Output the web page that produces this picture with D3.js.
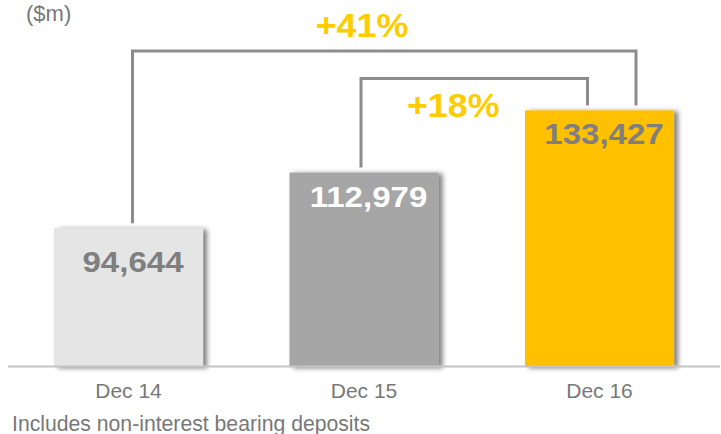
<!DOCTYPE html>
<html>
<head>
<meta charset="utf-8">
<script src="https://cdn.jsdelivr.net/npm/d3@7"></script>
<style>
  html, body { margin: 0; padding: 0; background: #fff; }
  svg { display: block; font-family: "Liberation Sans", Arial, Helvetica, sans-serif; }
</style>
</head>
<body>
<svg id="chart" width="721" height="434"></svg>
<script>
// ---- data ----
const categories = ["Dec 14", "Dec 15", "Dec 16"];
const values = [94644, 112979, 133427];
const valueLabels = ["94,644", "112,979", "133,427"];
const growthLabels = ["+41%", "+18%"];
const growthFrom = ["Dec 14", "Dec 15"];
const growthTo = ["Dec 16", "Dec 16"];
const unitLabel = "($m)";
const footnote = "Includes non-interest bearing deposits";

// ---- layout / style ----
const W = 721, H = 434;
const baseY = 367;
const barColors = ["#e5e5e5", "#a6a6a6", "#ffc000"];
const valueColors = ["#7f7f7f", "#ffffff", "#7f7f7f"];
const labelDy = [44, 34, 34];
const yellow = "#ffcc00";
const grey = "#8c8c8c";
const textGrey = "#787878";

const svg = d3.select("#chart");

const defs = svg.append("defs");
const f = defs.append("filter").attr("id", "shadow")
  .attr("x", "-10%").attr("y", "-10%").attr("width", "130%").attr("height", "130%");
f.append("feDropShadow").attr("dx", 4).attr("dy", 1).attr("stdDeviation", 2.5)
  .attr("flood-color", "#000").attr("flood-opacity", 0.5);

const x = d3.scaleBand().domain(categories).range([10.75, 717.25])
  .paddingInner(0.367).paddingOuter(0.1835);
const y = d3.scaleLinear().domain([49000, 150000]).range([baseY, 60]);

const data = categories.map((c, i) => ({ c, v: values[i], label: valueLabels[i], i }));

// bars
svg.append("g").selectAll("rect").data(data).join("rect")
  .attr("x", d => x(d.c))
  .attr("y", d => y(d.v))
  .attr("width", x.bandwidth())
  .attr("height", d => baseY - y(d.v))
  .attr("fill", d => barColors[d.i])
  .attr("filter", "url(#shadow)");

// baseline
svg.append("line")
  .attr("x1", 8).attr("x2", 720).attr("y1", baseY - 0.5).attr("y2", baseY - 0.5)
  .attr("stroke", "#c4c4c4").attr("stroke-width", 2);

// value labels (horizontally stretched bold text)
svg.append("g").selectAll("text").data(data).join("text")
  .attr("transform", d => `translate(${x(d.c) + x.bandwidth() / 2 + 4.5},${y(d.v) + labelDy[d.i]}) scale(1.14,1)`)
  .attr("text-anchor", "middle")
  .attr("font-size", 29)
  .attr("font-weight", "bold")
  .attr("fill", d => valueColors[d.i])
  .text(d => d.label);

// category labels
svg.append("g").selectAll("text").data(categories).join("text")
  .attr("x", c => x(c) + x.bandwidth() / 2)
  .attr("y", 398)
  .attr("text-anchor", "middle")
  .attr("font-size", 21)
  .attr("fill", textGrey)
  .text(c => c);

// growth brackets
const cx = c => x(c) + x.bandwidth() / 2;
const val = c => values[categories.indexOf(c)];
const brackets = [
  { label: growthLabels[0], from: growthFrom[0], to: growthTo[0], top: 51, dxL: 4, dxR: 36.5, lx: () => cx(categories[1]) - 2, ly: 37 },
  { label: growthLabels[1], from: growthFrom[1], to: growthTo[1], top: 78.5, dxL: -3, dxR: -12, lx: (a, b) => (a + b) / 2 - 21, ly: 117 }
];
const bg = svg.append("g");
brackets.forEach(b => {
  const xl = cx(b.from) + b.dxL, xr = cx(b.to) + b.dxR;
  const yl = y(val(b.from)) - 5, yr = y(val(b.to)) - 5;
  bg.append("path")
    .attr("d", `M${xl},${yl} V${b.top} H${xr} V${yr}`)
    .attr("fill", "none").attr("stroke", grey).attr("stroke-width", 3);
  bg.append("text")
    .attr("transform", `translate(${b.lx(xl, xr)},${b.ly}) scale(1.07,1)`)
    .attr("text-anchor", "middle")
    .attr("font-size", 33.5)
    .attr("font-weight", "bold")
    .attr("fill", yellow)
    .text(b.label);
});

// unit + footnote
svg.append("text").attr("x", 26).attr("y", 20.5)
  .attr("font-size", 22).attr("fill", textGrey).text(unitLabel);
svg.append("text").attr("x", 12).attr("y", 431)
  .attr("font-size", 21.2).attr("fill", textGrey).text(footnote);
</script>
</body>
</html>
